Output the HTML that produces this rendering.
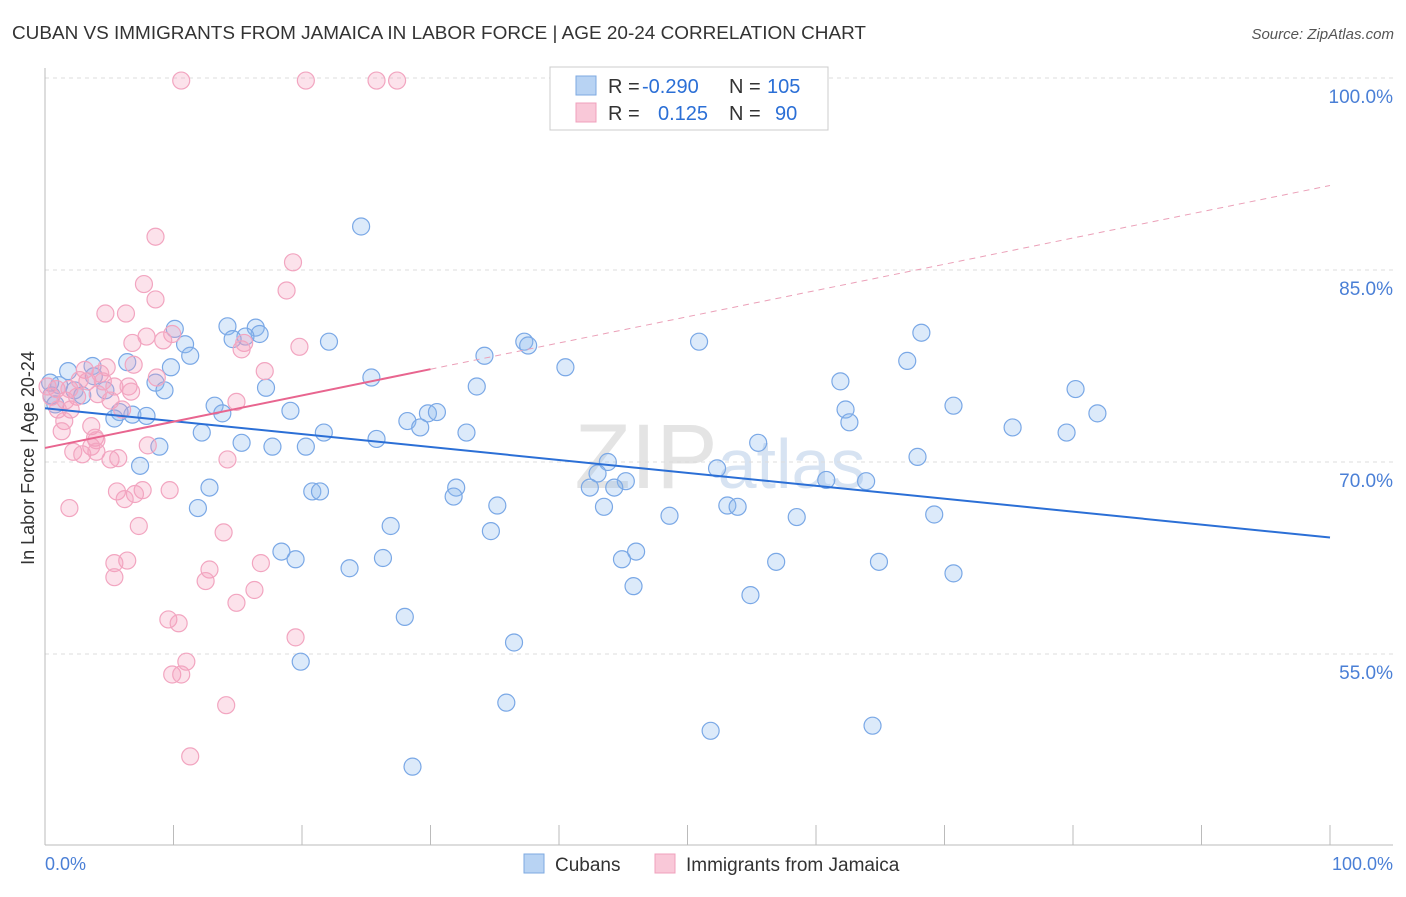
<!DOCTYPE html>
<html><head><meta charset="utf-8"><style>
body{margin:0;background:#fff;font-family:"Liberation Sans",sans-serif}
svg text{font-family:"Liberation Sans",sans-serif}
</style></head><body>
<svg id="c" width="1406" height="892">
<text x="12" y="39" font-size="18" fill="#333" textLength="854" lengthAdjust="spacingAndGlyphs">CUBAN VS IMMIGRANTS FROM JAMAICA IN LABOR FORCE | AGE 20-24 CORRELATION CHART</text>
<text x="1394" y="39" font-size="15" fill="#555" font-style="italic" text-anchor="end">Source: ZipAtlas.com</text>
<text x="720" y="488" font-size="92" fill="#e4e4e4" text-anchor="middle" font-family="Liberation Serif">ZIP<tspan font-family="Liberation Sans" font-size="70" fill="#d7e3f2">atlas</tspan></text>
<text x="34" y="458" font-size="18" fill="#333" text-anchor="middle" transform="rotate(-90 34 458)">In Labor Force | Age 20-24</text>
<g id="grid"></g><g id="marks"></g>
<text x="45" y="870" font-size="18" fill="#4a7fd6">0.0%</text>
<text x="1393" y="870" font-size="18" fill="#4a7fd6" text-anchor="end">100.0%</text>
<g>
<rect x="550" y="67" width="278" height="63" fill="#fff" stroke="#ccc"/>
<rect x="576" y="76" width="20" height="19" fill="#b8d3f3" stroke="#7ea9e0"/>
<rect x="576" y="103" width="20" height="19" fill="#f9c8d8" stroke="#f0a0bc"/>
<text y="93" font-size="20" fill="#333"><tspan x="608">R =</tspan><tspan x="642" fill="#2b6fd6">-0.290</tspan><tspan x="729">N =</tspan><tspan x="767" fill="#2b6fd6">105</tspan></text>
<text y="120" font-size="20" fill="#333"><tspan x="608">R =</tspan><tspan x="658" fill="#2b6fd6">0.125</tspan><tspan x="729">N =</tspan><tspan x="775" fill="#2b6fd6">90</tspan></text>
</g>
<g>
<rect x="524" y="854" width="20" height="19" fill="#b8d3f3" stroke="#7ea9e0"/>
<text x="555" y="871" font-size="19" fill="#333">Cubans</text>
<rect x="655" y="854" width="20" height="19" fill="#f9c8d8" stroke="#f0a0bc"/>
<text x="686" y="871" font-size="19" fill="#333">Immigrants from Jamaica</text>
</g>
</svg>
<script>
const yTicks=[100,85,70,55];
const cubanX=[24.6,10.1,14.2,16.4,16.7,15.6,14.6,22.1,37.3,37.6,10.9,11.3,6.4,34.2,40.5,50.9,68.2,67.1,9.8,3.7,1.8,25.4,61.9,33.6,80.2,8.6,17.2,9.3,4.7,1.1,0.5,13.2,13.8,19.1,70.7,62.3,81.9,5.8,6.8,7.9,5.4,29.8,30.5,28.2,29.2,62.6,75.3,79.5,12.2,21.7,32.8,25.8,15.3,17.7,20.3,8.9,55.5,67.9,43.8,7.4,52.3,43.0,45.2,60.8,63.9,12.8,42.4,44.3,32.0,20.8,21.4,31.8,35.2,43.5,53.1,53.9,11.9,48.6,58.5,69.2,26.9,34.7,46.0,18.4,19.5,26.3,44.9,56.9,64.9,23.7,70.7,45.8,54.9,28.0,36.5,19.9,35.9,64.4,51.8,28.6,0.4,0.8,2.3,2.9,3.8];
const cubanY=[88.4,80.4,80.6,80.5,80.0,79.8,79.6,79.4,79.4,79.1,79.2,78.3,77.8,78.3,77.4,79.4,80.1,77.9,77.4,77.5,77.1,76.6,76.3,75.9,75.7,76.2,75.8,75.6,75.6,76.0,75.2,74.4,73.8,74.0,74.4,74.1,73.8,73.9,73.7,73.6,73.4,73.8,73.9,73.2,72.7,73.1,72.7,72.3,72.3,72.3,72.3,71.8,71.5,71.2,71.2,71.2,71.5,70.4,70.0,69.7,69.5,69.1,68.5,68.6,68.5,68.0,68.0,68.0,68.0,67.7,67.7,67.3,66.6,66.5,66.6,66.5,66.4,65.8,65.7,65.9,65.0,64.6,63.0,63.0,62.4,62.5,62.4,62.2,62.2,61.7,61.3,60.3,59.6,57.9,55.9,54.4,51.2,49.4,49.0,46.2,76.2,74.5,75.6,75.2,76.7];
const jamX=[10.6,20.3,25.8,27.4,8.6,19.3,7.7,18.8,8.6,4.7,6.3,7.9,9.9,6.8,9.2,15.5,15.3,19.8,6.9,4.8,17.1,3.1,4.3,8.7,3.3,4.5,5.4,6.5,6.7,4.1,2.5,0.2,0.9,0.5,1.6,2.0,5.1,14.9,6.0,1.0,1.5,3.6,1.3,3.9,4.0,8.0,3.6,4.0,2.2,2.9,5.1,5.7,14.2,7.6,9.7,5.6,7.0,6.2,1.9,7.3,13.9,6.4,5.4,16.8,12.8,5.4,12.5,16.3,14.9,9.6,10.4,19.5,11.0,9.9,10.6,14.1,11.3,1.9,2.7];
const jamY=[99.8,99.8,99.8,99.8,87.6,85.6,83.9,83.4,82.7,81.6,81.6,79.8,80.0,79.3,79.5,79.3,78.8,79.0,77.6,77.4,77.1,77.2,76.9,76.6,76.3,76.3,75.9,75.9,75.5,75.3,75.1,75.9,75.7,75.1,74.8,74.1,74.8,74.7,74.1,74.1,73.2,72.8,72.4,71.9,71.7,71.3,71.2,70.8,70.8,70.6,70.2,70.3,70.2,67.8,67.8,67.7,67.5,67.1,66.4,65.0,64.5,62.3,62.1,62.1,61.6,61.0,60.7,60.0,59.0,57.7,57.4,56.3,54.4,53.4,53.4,51.0,47.0,75.7,76.4];
const cubanTrend=[74.2,-0.101];
const jamTrend=[71.1,0.205];
const NS='http://www.w3.org/2000/svg';
const sx=v=>45+v*12.85, sy=v=>78+(100-v)*12.8;
function mk(t,a,p){const e=document.createElementNS(NS,t);for(const k in a)e.setAttribute(k,a[k]);p.appendChild(e);return e;}
const grid=document.getElementById('grid'),marks=document.getElementById('marks');
yTicks.forEach(t=>{
 const l=mk('line',{x1:45,x2:1393,y1:sy(t),y2:sy(t),stroke:'#ddd','stroke-dasharray':'4,4'},grid);
 
 
 const tx=mk('text',{x:1393,y:sy(t)+25,'font-size':19,fill:'#4a7fd6','text-anchor':'end'},grid);
 tx.textContent=t.toFixed(1)+'%';
 
 
});
mk('line',{x1:45,x2:45,y1:68,y2:845,stroke:'#bbb'},grid);
mk('line',{x1:45,x2:1393,y1:845,y2:845,stroke:'#bbb'},grid);
for(let i=0;i<=10;i++){const t=mk('line',{x1:sx(i*10),x2:sx(i*10),y1:825,y2:845,stroke:'#bbb'},grid);
 
 }
function dots(X,Y,fill,stroke,name){X.forEach((x,i)=>{const c=mk('circle',{cx:sx(x),cy:sy(Y[i]),r:8.5,fill:fill,stroke:stroke,'stroke-width':1.2},marks);
 
 });}
dots(cubanX,cubanY,'rgba(140,185,240,0.3)','#7aa8e6','cuban-point');
dots(jamX,jamY,'rgba(245,160,190,0.3)','#f2a5c0','jamaica-point');
const [a1,b1]=cubanTrend;
const bl=mk('line',{x1:sx(0),y1:sy(a1),x2:sx(100),y2:sy(a1+100*b1),stroke:'#2b6fd6','stroke-width':2},marks);


const [a2,b2]=jamTrend;
const pl=mk('line',{x1:sx(0),y1:sy(a2),x2:sx(30),y2:sy(a2+30*b2),stroke:'#e8658f','stroke-width':2},marks);


const pd=mk('line',{x1:sx(30),y1:sy(a2+30*b2),x2:sx(100),y2:sy(a2+100*b2),stroke:'#eba0b8','stroke-width':1,'stroke-dasharray':'6,5'},marks);


</script>
</body></html>
